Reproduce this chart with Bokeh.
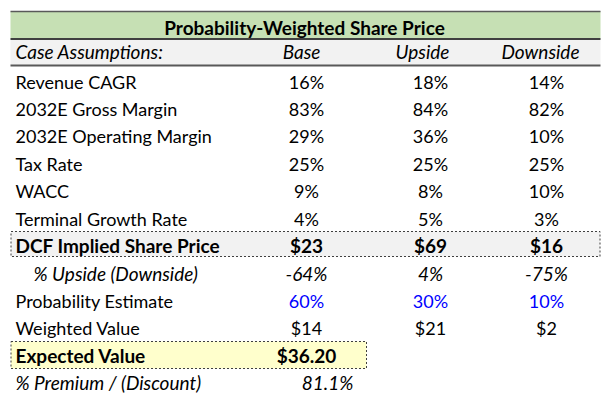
from bokeh.plotting import figure
from bokeh.models import ColumnDataSource, Range1d
from bokeh.embed import file_html
from bokeh.resources import INLINE
from bokeh.core.properties import value

# ---- data ----
title = "Probability-Weighted Share Price"
header_label = "Case Assumptions:"
cases = ["Base", "Upside", "Downside"]
row_labels = ["Revenue CAGR", "2032E Gross Margin", "2032E Operating Margin", "Tax Rate",
              "WACC", "Terminal Growth Rate", "DCF Implied Share Price", "% Upside (Downside)",
              "Probability Estimate", "Weighted Value", "Expected Value", "% Premium / (Discount)"]
base_vals = ["16%", "83%", "29%", "25%", "9%", "4%", "$23", "-64%", "60%", "$14", "$36.20", "81.1%"]
upside_vals = ["18%", "84%", "36%", "25%", "8%", "5%", "$69", "4%", "30%", "$21", "", ""]
downside_vals = ["14%", "82%", "10%", "25%", "10%", "3%", "$16", "-75%", "10%", "$2", "", ""]

bold_rows = [6, 10]
italic_rows = [7, 11]
blue_rows = [8]
indent_rows = [7]

# ---- layout ----
W, H = 608, 400
X0, X1 = 10, 600
LABEL_X = 15
INDENT_X = 33
VAL_X = [306, 430, 546]
HEAD_X = [301, 422, 540]
PREMIUM_X = 327
TXT_DY = -7.5
ROW0_BASE = 88.5 + TXT_DY
ROW_STEP = 27.4
FONT = "Lato"
FS = "18px"
FS_BOLD = "19px"
FS_ITAL = "19px"

p = figure(width=W, height=H, x_range=Range1d(0, W), y_range=Range1d(H, 0),
           x_axis_type=None, y_axis_type=None, toolbar_location=None,
           output_backend="svg", min_border=0, outline_line_color=None,
           background_fill_color="white", border_fill_color="white")
p.xgrid.visible = False
p.ygrid.visible = False

# bands
p.quad(left=[X0], right=[X1], top=[11], bottom=[38], fill_color="#C6E0B4", line_color=None)
p.quad(left=[X0], right=[X1], top=[39], bottom=[65], fill_color="#F2F2F2", line_color=None)
p.segment(x0=[X0], y0=[11], x1=[X1], y1=[11], line_color="#595959", line_width=1.5)
p.segment(x0=[X0], y0=[38.5], x1=[X1], y1=[38.5], line_color="#404040", line_width=2)
p.segment(x0=[X0], y0=[65], x1=[X1], y1=[65], line_color="#595959", line_width=2)

# highlighted boxes
p.quad(left=[10.5], right=[599.5], top=[231], bottom=[256], fill_color="#F2F2F2",
       line_color="#404040", line_width=1, line_dash="2 2")
p.quad(left=[10.5], right=[366], top=[341], bottom=[368], fill_color="#FFFFCC",
       line_color="#404040", line_width=1, line_dash="2 2")

# title
p.text(x=[304], y=[34 + TXT_DY], text=[title], text_font=value(FONT), text_font_size="19px",
       text_font_style="bold", text_align="center", text_baseline="alphabetic", text_color="black")

# header
p.text(x=[LABEL_X], y=[58 + TXT_DY], text=[header_label], text_font=value(FONT), text_font_size=FS_ITAL,
       text_font_style="italic", text_align="left", text_baseline="alphabetic", text_color="black")
p.text(x=HEAD_X, y=[58 + TXT_DY] * 3, text=cases, text_font=value(FONT), text_font_size=FS_ITAL,
       text_font_style="italic", text_align="center", text_baseline="alphabetic", text_color="black")

# rows
lx, ly, lt, ls, lf = [], [], [], [], []
vx, vy, vt, vs, vc, vf = [], [], [], [], [], []
for i, lab in enumerate(row_labels):
    y = ROW0_BASE + ROW_STEP * i
    if i in bold_rows:
        style, fsz = "bold", FS_BOLD
    elif i in italic_rows:
        style, fsz = "italic", FS_ITAL
    else:
        style, fsz = "normal", FS
    lx.append(INDENT_X if i in indent_rows else LABEL_X)
    ly.append(y)
    lt.append(lab)
    ls.append(style)
    lf.append(fsz)
    for j, vals in enumerate([base_vals, upside_vals, downside_vals]):
        if vals[i] == "":
            continue
        x = VAL_X[j]
        if i == 11:
            x = PREMIUM_X
        vx.append(x)
        vy.append(y)
        vt.append(vals[i])
        vs.append(style)
        vf.append(fsz)
        vc.append("#0000FF" if i in blue_rows else "black")

lsrc = ColumnDataSource(dict(x=lx, y=ly, text=lt, style=ls, fs=lf))
vsrc = ColumnDataSource(dict(x=vx, y=vy, text=vt, style=vs, color=vc, fs=vf))
p.text(x="x", y="y", text="text", source=lsrc, text_font=value(FONT), text_font_size="fs",
       text_font_style="style", text_align="left", text_baseline="alphabetic", text_color="black")
p.text(x="x", y="y", text="text", source=vsrc, text_font=value(FONT), text_font_size="fs",
       text_font_style="style", text_align="center", text_baseline="alphabetic", text_color="color")

open("out.html", "w").write(file_html(p, INLINE))
